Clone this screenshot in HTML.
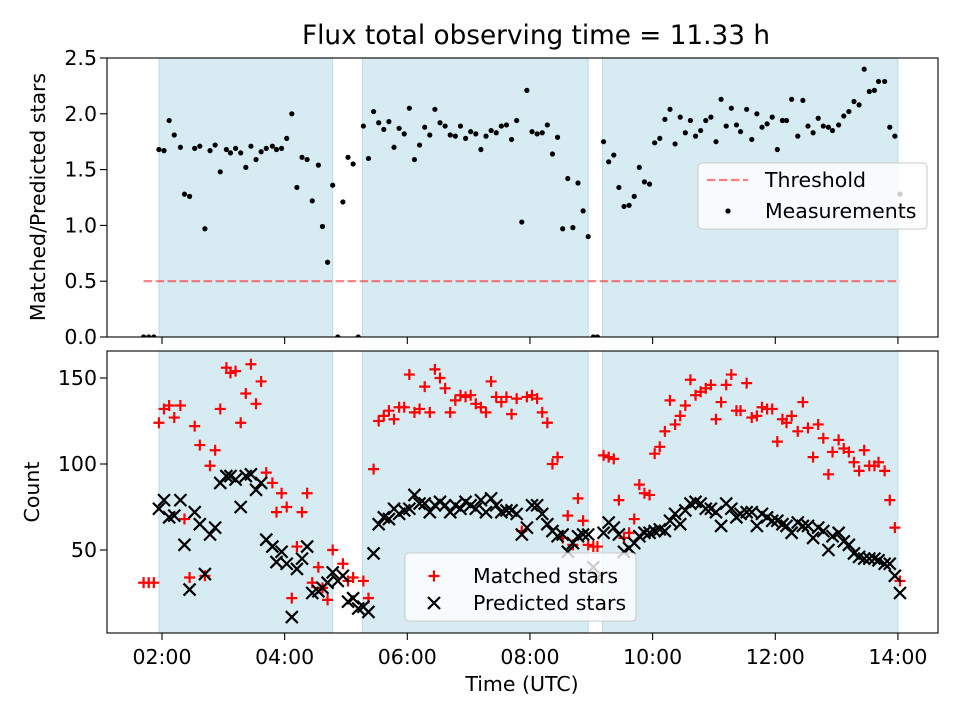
<!DOCTYPE html>
<html><head><meta charset="utf-8"><style>
html,body{margin:0;padding:0;background:#fff;}
svg{display:block;font-family:"DejaVu Sans","Liberation Sans",sans-serif;}
</style></head><body>
<svg id="chart" width="960" height="720" viewBox="0 0 960 720" xmlns="http://www.w3.org/2000/svg"></svg>
<script>
// ---- data (time in minutes since 00:00 UTC) ----
const times = [102,107,112,117,122,127,132,138,142,147,152,157,162,167,172,177,183,187,192,197,202,207,212,217,222,228,232,237,242,247,252,257,262,267,273,277,282,287,292,297,302,307,312,317,322,327,332,337,342,347,352,357,362,367,372,377,382,387,392,397,402,407,412,417,422,427,432,437,442,447,452,457,462,467,472,477,482,487,492,497,502,507,512,517,522,527,532,537,542,546,552,557,562,567,572,577,582,587,592,597,602,607,612,617,622,627,632,637,642,647,652,657,662,667,672,677,682,686,692,697,702,707,712,717,722,727,731,736,742,747,752,757,762,767,772,776,782,787,792,797,802,807,812,817,821,827,832,837,842];
const ratio = [0,0,0,1.68,1.67,1.94,1.81,1.70,1.28,1.26,1.69,1.71,0.97,1.67,1.72,1.48,1.68,1.65,1.69,1.65,1.52,1.71,1.59,1.66,1.69,1.71,1.68,1.69,1.78,2.00,1.34,1.61,1.59,1.22,1.54,0.99,0.67,1.36,0,1.21,1.61,1.55,0,1.89,1.60,2.02,1.92,1.86,1.93,1.70,1.87,1.82,2.05,1.59,1.72,1.88,1.81,2.04,1.92,1.89,1.81,1.80,1.89,1.78,1.84,1.82,1.68,1.80,1.85,1.83,1.89,1.90,1.77,1.94,1.03,2.21,1.84,1.82,1.83,1.90,1.64,1.79,0.97,1.42,0.98,1.38,1.13,0.90,0,0,1.75,1.57,1.63,1.34,1.17,1.18,1.26,1.52,1.39,1.37,1.74,1.78,1.95,2.04,1.73,1.97,1.83,1.94,1.80,1.85,1.94,1.97,1.75,2.13,1.89,2.05,1.90,1.84,2.04,1.77,2.00,1.88,1.91,1.97,1.68,1.94,1.94,2.13,1.80,2.12,1.89,1.83,1.96,1.89,1.88,1.85,1.90,1.98,2.02,2.11,2.08,2.40,2.20,2.21,2.29,2.29,1.88,1.80,1.28];
const matched = [31,31,31,124,132,134,127,134,68,34,122,111,35,99,108,132,156,153,154,124,141,158,135,148,95,89,72,83,75,22,52,72,83,31,40,28,21,50,null,42,32,34,null,32,22,97,125,128,131,126,133,133,152,130,132,145,130,155,150,144,130,137,140,139,140,135,133,130,148,139,136,139,129,138,61,139,140,138,130,124,100,104,57,70,53,80,67,53,52,52,105,104,103,79,57,60,68,88,83,82,106,110,119,137,123,128,134,149,140,142,144,146,126,136,146,152,131,131,147,127,128,133,132,132,113,126,124,128,119,136,121,104,123,115,94,107,114,109,107,101,96,108,99,99,101,96,79,63,32];
const predicted = [null,null,null,74,79,69,70,79,53,27,72,65,36,59,63,89,93,93,91,75,93,94,85,89,56,52,43,49,42,11,39,45,52,25,26,28,31,37,32,35,20,22,16,17,14,48,65,69,68,74,71,73,74,82,77,77,72,76,78,76,72,76,74,78,76,74,79,72,80,76,72,73,73,71,59,63,76,76,71,65,61,58,59,49,54,58,59,59,40,34,60,66,63,59,49,51,54,58,60,60,61,62,61,67,71,65,73,77,78,77,74,74,72,64,77,74,69,71,72,72,64,71,69,67,67,65,64,60,66,64,64,57,63,61,50,58,60,55,53,48,46,45,45,45,44,42,42,35,25];
const spans = [[117,287],[316,537],[551,840]];
const threshold = 0.5;
const xTicks = [120,240,360,480,600,720,840];
const xTickLabels = ["02:00","04:00","06:00","08:00","10:00","12:00","14:00"];
const yTopTicks = [0,0.5,1,1.5,2,2.5];
const yTopLabels = ["0.0","0.5","1.0","1.5","2.0","2.5"];
const yBotTicks = [50,100,150];
const yBotLabels = ["50","100","150"];

(function(){
const NS = "http://www.w3.org/2000/svg";
const svg = document.getElementById('chart');
const FS = '20.5';
function mk(tag, attrs, parent){ const e=document.createElementNS(NS,tag); for(const k in attrs) e.setAttribute(k,attrs[k]); (parent||svg).appendChild(e); return e; }

const L=107, R=938, T1=58, B1=337, T2=351, B2=633;
const xmin=66.2, xmax=879.2;
const X = t => L + (t - xmin)/(xmax - xmin)*(R-L);
const Y1 = v => B1 - v/2.5*(B1-T1);
const Y2 = c => 550 - (c-50)*1.72;

function panel(T,B,name){
  const g = mk('g',{});
  
  
  const clipId = name+'-clip';
  const cp = mk('clipPath',{id:clipId}, g); mk('rect',{x:L,y:T,width:R-L,height:B-T},cp);
  const inner = mk('g',{'clip-path':'url(#'+clipId+')'}, g);
  spans.forEach((s,i)=>{
    const r = mk('rect',{x:X(s[0]),y:T,width:X(s[1])-X(s[0]),height:B-T,fill:'#add8e6','fill-opacity':0.5,stroke:'#add8e6','stroke-opacity':0.8,'stroke-width':1}, inner);
    
    
  });
  return {g:g, inner:inner};
}

// ---- top panel ----
const pTop = panel(T1,B1,'ratio-panel');
const th = mk('line',{x1:X(times[0]),x2:X(times[times.length-1]),y1:Y1(threshold),y2:Y1(threshold),stroke:'#ff0000','stroke-opacity':0.5,'stroke-width':2.2,'stroke-dasharray':'8.5 3.5'}, pTop.inner);


times.forEach((t,i)=>{
  const c = mk('circle',{cx:X(t),cy:Y1(ratio[i]),r:2.6,fill:'#000'}, pTop.inner);
  
  
});
mk('rect',{x:L,y:T1,width:R-L,height:B1-T1,fill:'none',stroke:'#000','stroke-width':1.1}, pTop.g);
xTicks.forEach(t=>{ mk('line',{x1:X(t),x2:X(t),y1:B1,y2:B1+7,stroke:'#000','stroke-width':1.1}, pTop.g); });
yTopTicks.forEach((v,i)=>{
  mk('line',{x1:L-7,x2:L,y1:Y1(v),y2:Y1(v),stroke:'#000','stroke-width':1.1}, pTop.g);
  const tx = mk('text',{x:L-10,y:Y1(v),'text-anchor':'end','dominant-baseline':'central','font-size':FS}, pTop.g);
  tx.textContent = yTopLabels[i];
  
  
});

// ---- bottom panel ----
const pBot = panel(T2,B2,'count-panel');
function plus(cx,cy,parent){ return mk('path',{d:`M${cx-5.5},${cy}H${cx+5.5}M${cx},${cy-5.5}V${cy+5.5}`,stroke:'#ff0000','stroke-width':2.2,fill:'none'},parent); }
function cross(cx,cy,parent){ return mk('path',{d:`M${cx-6},${cy-6}L${cx+6},${cy+6}M${cx-6},${cy+6}L${cx+6},${cy-6}`,stroke:'#000','stroke-width':2.2,fill:'none'},parent); }
times.forEach((t,i)=>{
  if(matched[i]!==null && matched[i]!==undefined){
    const p = plus(X(t),Y2(matched[i]),pBot.inner);
    
    
  }
});
times.forEach((t,i)=>{
  if(predicted[i]!==null && predicted[i]!==undefined){
    const p = cross(X(t),Y2(predicted[i]),pBot.inner);
    
    
  }
});
mk('rect',{x:L,y:T2,width:R-L,height:B2-T2,fill:'none',stroke:'#000','stroke-width':1.1}, pBot.g);
xTicks.forEach((t,i)=>{
  mk('line',{x1:X(t),x2:X(t),y1:B2,y2:B2+7,stroke:'#000','stroke-width':1.1}, pBot.g);
  const tx = mk('text',{x:X(t),y:B2+24,'text-anchor':'middle','dominant-baseline':'central','font-size':FS}, pBot.g);
  tx.textContent = xTickLabels[i];
  
  
});
yBotTicks.forEach((v,i)=>{
  mk('line',{x1:L-7,x2:L,y1:Y2(v),y2:Y2(v),stroke:'#000','stroke-width':1.1}, pBot.g);
  const tx = mk('text',{x:L-10,y:Y2(v),'text-anchor':'end','dominant-baseline':'central','font-size':FS}, pBot.g);
  tx.textContent = yBotLabels[i];
  
  
});
})();
</script>
<script>
// ---- static labels & legends ----
(function(){
const NS="http://www.w3.org/2000/svg", svg=document.getElementById('chart');
const FS='20.5';
function mk(tag, attrs, parent){ const e=document.createElementNS(NS,tag); for(const k in attrs) e.setAttribute(k,attrs[k]); (parent||svg).appendChild(e); return e; }
let t;
t = mk('text',{x:536,y:36,'text-anchor':'middle','dominant-baseline':'central','font-size':'26.3'});
t.textContent='Flux total observing time = 11.33 h';


t = mk('text',{x:0,y:0,'text-anchor':'middle','dominant-baseline':'central','font-size':FS,transform:'translate(38,197) rotate(-90)'});
t.textContent='Matched/Predicted stars';


t = mk('text',{x:0,y:0,'text-anchor':'middle','dominant-baseline':'central','font-size':FS,transform:'translate(32,492) rotate(-90)'});
t.textContent='Count';


t = mk('text',{x:522,y:684,'text-anchor':'middle','dominant-baseline':'central','font-size':FS});
t.textContent='Time (UTC)';



// top legend
const lg1 = mk('g',{});


mk('rect',{x:698,y:163,width:229,height:66,rx:4,fill:'#fff','fill-opacity':0.8,stroke:'#cccccc','stroke-width':1.1},lg1);
mk('line',{x1:707,x2:748,y1:180,y2:180,stroke:'#ff0000','stroke-opacity':0.5,'stroke-width':2.2,'stroke-dasharray':'8.5 3.5'},lg1);
t = mk('text',{x:765,y:180,'dominant-baseline':'central','font-size':FS},lg1); t.textContent='Threshold';


mk('circle',{cx:728,cy:211,r:2.6,fill:'#000'},lg1);
t = mk('text',{x:765,y:211,'dominant-baseline':'central','font-size':FS},lg1); t.textContent='Measurements';



// bottom legend
const lg2 = mk('g',{});


mk('rect',{x:405,y:553,width:231,height:68,rx:4,fill:'#fff','fill-opacity':0.8,stroke:'#cccccc','stroke-width':1.1},lg2);
mk('path',{d:'M428.5,576H439.5M434,570.5V581.5',stroke:'#ff0000','stroke-width':2.2,fill:'none'},lg2);
t = mk('text',{x:473,y:576,'dominant-baseline':'central','font-size':FS},lg2); t.textContent='Matched stars';


mk('path',{d:'M428,597L440,609M428,609L440,597',stroke:'#000','stroke-width':2.2,fill:'none'},lg2);
t = mk('text',{x:473,y:603,'dominant-baseline':'central','font-size':FS},lg2); t.textContent='Predicted stars';


})();
</script>
</body></html>
